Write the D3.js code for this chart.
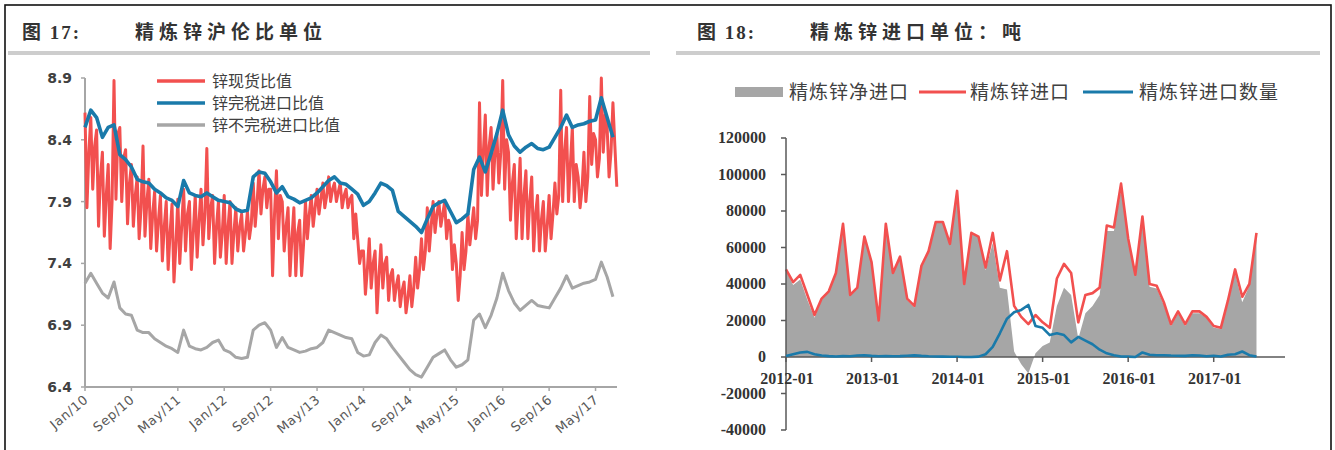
<!DOCTYPE html>
<html>
<head>
<meta charset="utf-8">
<script src="https://cdn.jsdelivr.net/npm/d3@7"></script>
<style>
html,body{margin:0;padding:0;background:#fff;}
svg{display:block;}
</style>
</head>
<body>
<svg id="chart" width="1335" height="450"></svg>
<script>
// ---------- Figure 17: SHFE/LME zinc price ratios (Jan 2010 – Aug 2017) ----------
// Spot ratio: three readings per month (volatile daily series)
const spotRatio = [
  // 2010
  8.62,7.85,8.30, 8.58,8.00,8.35, 8.48,7.70,8.10, 8.30,7.62,7.95, 8.20,7.52,7.90, 8.88,7.92,8.45,
  8.50,7.90,8.25, 8.32,7.72,8.05, 8.20,7.70,7.95, 8.10,7.60,7.85, 8.35,7.62,7.90, 8.08,7.52,7.80,
  // 2011
  7.98,7.50,7.75, 7.95,7.42,7.70, 7.90,7.35,7.65, 7.88,7.25,7.55, 7.92,7.40,7.70, 8.00,7.50,7.80,
  7.90,7.35,7.65, 7.95,7.45,7.75, 8.00,7.55,7.80, 8.33,7.60,7.85, 7.95,7.40,7.70, 7.90,7.45,7.65,
  // 2012
  7.95,7.40,7.70, 7.90,7.40,7.65, 7.85,7.50,7.70, 7.80,7.50,7.65, 7.82,7.60,7.72, 8.05,7.70,7.90,
  8.15,7.80,8.00, 8.10,7.85,8.00, 8.00,7.30,7.80, 8.15,7.60,7.95, 7.90,7.50,7.70, 7.85,7.30,7.60,
  // 2013
  7.85,7.30,7.65, 7.75,7.30,7.55, 7.90,7.60,7.80, 7.95,7.70,7.85, 8.00,7.80,7.92, 8.05,7.85,7.95,
  8.10,7.90,8.00, 8.05,7.90,7.98, 8.05,7.85,7.95, 8.00,7.85,7.92, 7.95,7.60,7.80, 7.60,7.40,7.50,
  // 2014
  7.50,7.15,7.35, 7.60,7.20,7.40, 7.50,7.00,7.30, 7.55,7.20,7.40, 7.45,7.10,7.30, 7.35,7.10,7.22,
  7.30,7.05,7.18, 7.25,7.00,7.12, 7.30,7.05,7.20, 7.45,7.20,7.35, 7.60,7.35,7.50, 7.85,7.50,7.70,
  // 2015
  7.90,7.65,7.80, 7.90,7.70,7.80, 7.90,7.60,7.75, 7.70,7.35,7.55, 7.40,7.10,7.30, 7.65,7.35,7.50,
  7.80,7.55,7.70, 7.85,7.60,7.75, 8.70,7.95,8.30, 8.60,7.95,8.35, 8.50,8.00,8.30, 8.45,8.05,8.30,
  // 2016
  8.88,8.00,8.40, 8.30,7.75,8.05, 8.20,7.60,7.90, 8.25,7.60,7.95, 8.15,7.60,7.90, 8.10,7.50,7.80,
  7.95,7.50,7.75, 7.90,7.50,7.70, 7.95,7.60,7.80, 8.05,7.80,7.95, 8.80,7.90,8.30, 8.50,7.90,8.20,
  // 2017
  8.50,7.90,8.20, 8.10,7.85,8.00, 8.30,7.90,8.10, 8.75,8.20,8.45, 8.40,8.10,8.25, 8.90,8.30,8.60,
  8.50,8.10,8.30, 8.70,8.35,8.02
];

// Duty-paid import ratio, monthly
const dutyPaidRatio = [
  8.50,8.64,8.58,8.42,8.50,8.52,8.28,8.24,8.18,8.08,8.06,8.05,
  8.00,7.97,7.93,7.91,7.86,8.07,7.97,7.95,7.94,7.97,7.94,7.91,
  7.90,7.89,7.84,7.82,7.83,8.10,8.14,8.13,8.06,7.97,8.02,7.94,
  7.92,7.89,7.91,7.93,7.97,8.02,8.07,8.10,8.05,8.04,8.00,7.96,
  7.87,7.90,7.97,8.05,8.03,7.99,7.82,7.78,7.74,7.70,7.65,7.76,
  7.86,7.89,7.91,7.82,7.73,7.76,7.80,8.16,8.26,8.14,8.29,8.45,
  8.64,8.44,8.35,8.30,8.34,8.37,8.33,8.32,8.34,8.42,8.50,8.60,
  8.50,8.52,8.53,8.55,8.56,8.74,8.58,8.42
];

// Non-duty-paid import ratio, monthly
const nonDutyRatio = [
  7.24,7.32,7.24,7.16,7.12,7.25,7.04,6.99,6.98,6.86,6.84,6.84,
  6.79,6.76,6.73,6.71,6.68,6.86,6.73,6.71,6.70,6.72,6.76,6.78,
  6.70,6.68,6.64,6.63,6.64,6.86,6.90,6.92,6.86,6.72,6.80,6.72,
  6.70,6.68,6.69,6.71,6.72,6.76,6.86,6.84,6.82,6.80,6.79,6.68,
  6.65,6.66,6.76,6.82,6.79,6.72,6.66,6.60,6.54,6.50,6.48,6.56,
  6.64,6.67,6.70,6.62,6.56,6.58,6.62,6.94,6.99,6.88,6.98,7.12,
  7.32,7.18,7.08,7.02,7.06,7.10,7.06,7.05,7.04,7.12,7.20,7.30,
  7.20,7.22,7.24,7.25,7.27,7.41,7.29,7.13
];

const ratioTicks = [6.4, 6.9, 7.4, 7.9, 8.4, 8.9];
const ratioTickLabels = ["6.4", "6.9", "7.4", "7.9", "8.4", "8.9"];
const monthTickLabels = ["Jan/10","Sep/10","May/11","Jan/12","Sep/12","May/13",
                         "Jan/14","Sep/14","May/15","Jan/16","Sep/16","May/17"];
const ratioSeriesNames = ["锌现货比值", "锌完税进口比值", "锌不完税进口比值"];

// ---------- Figure 18: refined zinc imports, tonnes (Jan 2012 – Jul 2017) ----------
const netImports = [
  47500,39500,42500,31200,21500,31200,35500,45700,72500,33600,37200,65000,
  51400,19600,72500,45600,54500,31300,27100,49400,57600,73700,73800,61900,
  90900,40000,68000,65800,47500,62500,38000,37000,3000,-4000,-9000,2000,
  6000,8000,28000,38000,34000,10000,24000,28000,34000,69000,69000,92000,
  64000,44000,74000,38500,37500,28500,17000,24000,17000,24000,24000,21500,
  16000,15500,29500,46000,30000,39000,67500
];
const grossImports = [
  48000,41000,45000,34000,23000,32000,36000,46000,73000,34000,38000,66000,
  52000,20000,73000,46000,55000,32000,28000,50000,58000,74000,74000,62000,
  91000,40000,68000,66000,49000,68000,42000,58000,28000,22000,18000,23000,
  19000,16000,43000,51000,46000,19000,34000,35000,38000,72000,71000,95000,
  65000,45000,77000,40000,39000,30000,18000,25000,18000,25000,25000,22000,
  17000,16000,31000,48000,33000,40000,68000
];
const importQty = [
  500,1500,2500,2800,1500,800,500,300,500,400,800,1000,
  600,400,500,400,500,700,900,600,400,300,200,100,
  100,0,0,200,1500,5500,13000,21000,24500,25800,28500,17000,
  16000,12000,13000,12000,8000,11000,9000,7000,4000,2000,1000,300,
  200,0,2500,1200,1000,1000,800,700,600,1000,800,400,
  700,300,1200,1500,3000,1000,300
];
const tonTicks = [-40000,-20000,0,20000,40000,60000,80000,100000,120000];
const yearTickLabels = ["2012-01","2013-01","2014-01","2015-01","2016-01","2017-01"];
const importSeriesNames = ["精炼锌净进口", "精炼锌进口", "精炼锌进口数量"];

// ---------- styling ----------
const RED = "#F2504F", BLUE = "#1A7AAA", GREY = "#A6A6A6";
const svg = d3.select("#chart");

// outer frame
svg.append("rect").attr("x", 5).attr("y", 5).attr("width", 1326).attr("height", 460)
  .attr("fill", "none").attr("stroke", "#111").attr("stroke-width", 1.6);

// panel headings
function heading(x0, num, text, barX0, barX1) {
  svg.append("text").attr("x", x0).attr("y", 39)
    .attr("font-family", "'Liberation Serif','Noto Sans CJK SC',serif")
    .attr("font-size", 19).attr("font-weight", 700).attr("fill", "#333")
    .attr("letter-spacing", 2).text(num);
  svg.append("text").attr("x", x0 + 113).attr("y", 39)
    .attr("font-family", "'Noto Sans CJK SC',sans-serif")
    .attr("font-size", 19).attr("font-weight", 700).attr("fill", "#333")
    .attr("letter-spacing", 5).text(text);
  svg.append("rect").attr("x", barX0).attr("y", 51).attr("width", barX1 - barX0).attr("height", 4)
    .attr("fill", "#CDCDCD");
}
heading(22, "图 17:", "精炼锌沪伦比单位", 8, 650);
heading(697, "图 18:", "精炼锌进口单位：吨", 676, 1320);

// ================= left chart =================
const gL = svg.append("g");
const xL = d3.scaleLinear().domain([0, 91.7]).range([85, 617]);
const yL = d3.scaleLinear().domain([6.4, 8.9]).range([387, 78]);

// axes
gL.append("line").attr("x1", xL(0)).attr("x2", xL(0)).attr("y1", yL(8.9)).attr("y2", yL(6.4))
  .attr("stroke", "#A6A6A6").attr("stroke-width", 2);
gL.append("line").attr("x1", xL(0)).attr("x2", xL(91.7)).attr("y1", yL(6.4)).attr("y2", yL(6.4))
  .attr("stroke", "#A6A6A6").attr("stroke-width", 2);

ratioTicks.forEach((v, i) => {
  gL.append("line").attr("x1", xL(0) - 4).attr("x2", xL(0)).attr("y1", yL(v)).attr("y2", yL(v))
    .attr("stroke", "#A6A6A6").attr("stroke-width", 1.5);
  gL.append("text").attr("x", 72).attr("y", yL(v) + 5).attr("text-anchor", "end")
    .attr("font-family", "'DejaVu Sans',sans-serif").attr("font-size", 14).attr("font-weight", 700)
    .attr("fill", "#404040").text(ratioTickLabels[i]);
});
monthTickLabels.forEach((lab, i) => {
  const m = i * 8, x = xL(m);
  gL.append("line").attr("x1", x).attr("x2", x).attr("y1", yL(6.4)).attr("y2", yL(6.4) + 4)
    .attr("stroke", "#A6A6A6").attr("stroke-width", 1.5);
  gL.append("text").attr("transform", `translate(${x + 4},${yL(6.4) + 14}) rotate(-40)`)
    .attr("text-anchor", "end")
    .attr("font-family", "'DejaVu Sans',sans-serif").attr("font-size", 13)
    .attr("letter-spacing", 0.6).attr("fill", "#595959").text(lab);
});

const lineL = d3.line().x(d => xL(d.t)).y(d => yL(d.v)).curve(d3.curveLinear);
const spotPts = spotRatio.map((v, i) => ({ t: i / 3, v }));
const dutyPts = dutyPaidRatio.map((v, i) => ({ t: i, v }));
const nonDutyPts = nonDutyRatio.map((v, i) => ({ t: i, v }));

gL.append("path").attr("d", lineL(spotPts)).attr("fill", "none")
  .attr("stroke", RED).attr("stroke-width", 3).attr("stroke-linejoin", "round");
gL.append("path").attr("d", lineL(nonDutyPts)).attr("fill", "none")
  .attr("stroke", GREY).attr("stroke-width", 3).attr("stroke-linejoin", "round");
gL.append("path").attr("d", lineL(dutyPts)).attr("fill", "none")
  .attr("stroke", BLUE).attr("stroke-width", 3.6).attr("stroke-linejoin", "round");

// legend
[RED, BLUE, GREY].forEach((c, i) => {
  const y = 81 + i * 22;
  gL.append("line").attr("x1", 157).attr("x2", 205).attr("y1", y).attr("y2", y)
    .attr("stroke", c).attr("stroke-width", 3.5);
  gL.append("text").attr("x", 212).attr("y", y + 6)
    .attr("font-family", "'Noto Sans CJK SC',sans-serif").attr("font-size", 16)
    .attr("fill", "#404040").text(ratioSeriesNames[i]);
});

// ================= right chart =================
const gR = svg.append("g");
const xR = d3.scaleLinear().domain([0, 70]).range([786, 1285]);
const yR = d3.scaleLinear().domain([-40000, 120000]).range([430, 138]);

const area = d3.area().x((d, i) => xR(i)).y0(yR(0)).y1(d => yR(d));
gR.append("path").attr("d", area(netImports)).attr("fill", GREY);

const lineR = d3.line().x((d, i) => xR(i)).y(d => yR(d));
gR.append("path").attr("d", lineR(grossImports)).attr("fill", "none")
  .attr("stroke", RED).attr("stroke-width", 2.6).attr("stroke-linejoin", "round");

// axes
gR.append("line").attr("x1", xR(0)).attr("x2", xR(0)).attr("y1", yR(120000)).attr("y2", yR(-40000))
  .attr("stroke", "#595959").attr("stroke-width", 1.5);
gR.append("line").attr("x1", xR(0)).attr("x2", xR(70)).attr("y1", yR(0)).attr("y2", yR(0))
  .attr("stroke", "#595959").attr("stroke-width", 1.5);

gR.append("path").attr("d", lineR(importQty)).attr("fill", "none")
  .attr("stroke", BLUE).attr("stroke-width", 2.6).attr("stroke-linejoin", "round");

tonTicks.forEach(v => {
  gR.append("line").attr("x1", xR(0) - 5).attr("x2", xR(0)).attr("y1", yR(v)).attr("y2", yR(v))
    .attr("stroke", "#595959").attr("stroke-width", 1.5);
  gR.append("text").attr("x", 766).attr("y", yR(v) + 5).attr("text-anchor", "end")
    .attr("font-family", "'Liberation Serif',serif").attr("font-size", 16).attr("font-weight", 700)
    .attr("fill", "#333").text(v);
});
yearTickLabels.forEach((lab, i) => {
  const x = xR(i * 12);
  gR.append("line").attr("x1", x).attr("x2", x).attr("y1", yR(0)).attr("y2", yR(0) + 5)
    .attr("stroke", "#595959").attr("stroke-width", 1.5);
  gR.append("text").attr("x", x + 1).attr("y", yR(0) + 27).attr("text-anchor", "middle")
    .attr("font-family", "'Liberation Serif',serif").attr("font-size", 16).attr("font-weight", 700)
    .attr("fill", "#333").text(lab);
});

// legend
const legY = 92;
gR.append("rect").attr("x", 735).attr("y", legY - 5).attr("width", 48).attr("height", 10).attr("fill", GREY);
gR.append("text").attr("x", 789).attr("y", legY + 7)
  .attr("font-family", "'Noto Sans CJK SC',sans-serif").attr("font-size", 19)
  .attr("letter-spacing", 1).attr("fill", "#404040").text(importSeriesNames[0]);
gR.append("line").attr("x1", 919).attr("x2", 966).attr("y1", legY).attr("y2", legY)
  .attr("stroke", RED).attr("stroke-width", 3);
gR.append("text").attr("x", 970).attr("y", legY + 7)
  .attr("font-family", "'Noto Sans CJK SC',sans-serif").attr("font-size", 19)
  .attr("letter-spacing", 1).attr("fill", "#404040").text(importSeriesNames[1]);
gR.append("line").attr("x1", 1083).attr("x2", 1133).attr("y1", legY).attr("y2", legY)
  .attr("stroke", BLUE).attr("stroke-width", 3);
gR.append("text").attr("x", 1139).attr("y", legY + 7)
  .attr("font-family", "'Noto Sans CJK SC',sans-serif").attr("font-size", 19)
  .attr("letter-spacing", 1).attr("fill", "#404040").text(importSeriesNames[2]);
</script>
</body>
</html>
